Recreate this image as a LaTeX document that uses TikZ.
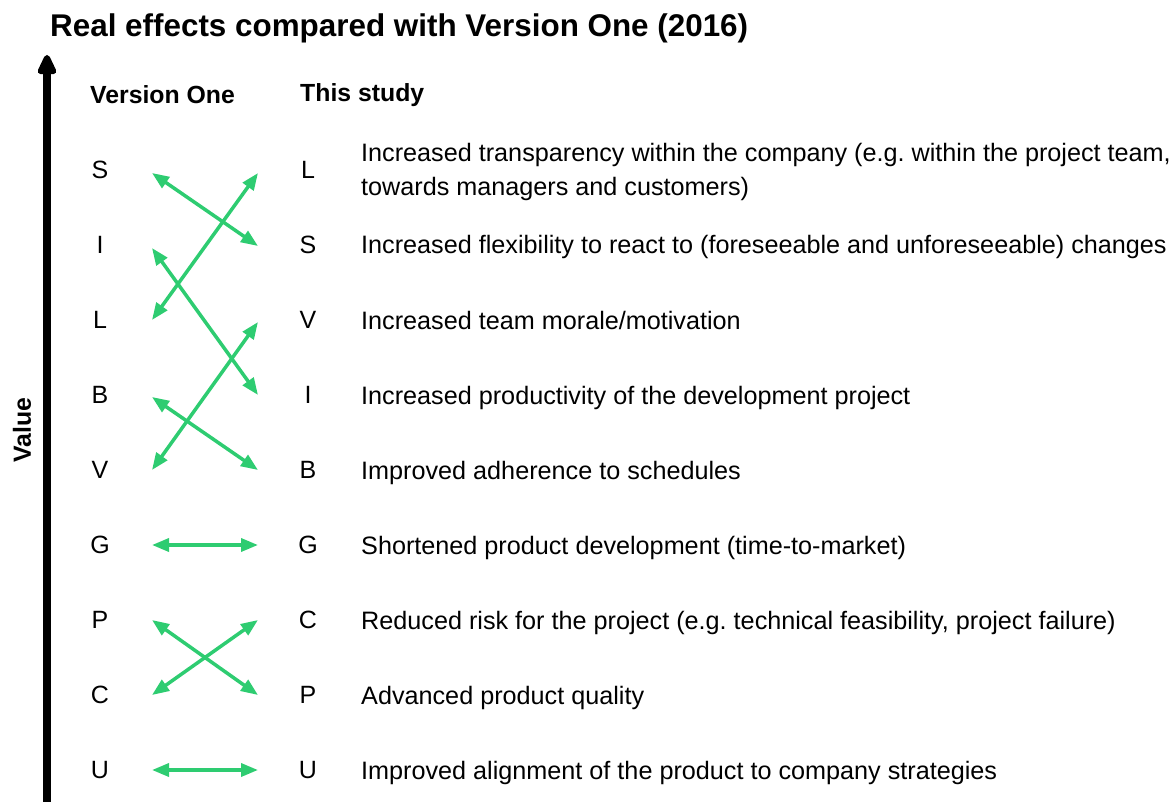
\documentclass[tikz,border=0pt]{standalone}
\usepackage{fontspec}
\setmainfont{Liberation Sans}
\usetikzlibrary{arrows.meta}
\definecolor{grn}{HTML}{2ECC71}
\frenchspacing
\begin{document}
\begin{tikzpicture}[x=1pt,y=-1pt,
  lbl/.style={font=\fontsize{25}{29}\selectfont, inner sep=0pt},
  desc/.style={font=\fontsize{25.2}{34}\selectfont, inner sep=0pt, anchor=base west, yshift=-9pt},
  hdr/.style={font=\fontsize{24.8}{28}\selectfont\bfseries, inner sep=0pt, anchor=west},
  link/.style={draw=grn, line width=3.5pt, {Triangle[length=17pt,width=13pt]}-{Triangle[length=17pt,width=13pt]}}]
\useasboundingbox (0,0) rectangle (1172,802);
\node[font=\fontsize{31.4}{35}\selectfont\bfseries, inner sep=0pt, anchor=west] (title) at (50,28) {Real effects compared with Version One (2016)};
\coordinate (axb) at (47,802);
\coordinate (axt) at (47,55);
\draw[line width=8.5pt, -{Triangle[length=24pt,width=20pt,round]}] (axb) -- (axt);
\node[font=\fontsize{24.8}{28}\selectfont\bfseries, inner sep=0pt, rotate=90] (value) at (22,430) {Value};
\node[hdr] (h1) at (90,95) {Version One};
\node[hdr] (h2) at (300,95) {This study};
% left letters
\foreach \n/\t/\y in {lS/S/170, lI/I/245, lL/L/320, lB/B/395, lV/V/470, lG/G/545, lP/P/620, lC/C/695, lU/U/770}
  \node[lbl] (\n) at (100,\y) {\t};
% right letters
\foreach \n/\t/\y in {rL/L/170, rS/S/245, rV/V/320, rI/I/395, rB/B/470, rG/G/545, rC/C/620, rP/P/695, rU/U/770}
  \node[lbl] (\n) at (308,\y) {\t};
% descriptions
\node[font=\fontsize{25.2}{34}\selectfont, inner sep=0pt, anchor=west, align=left, yshift=-2pt] (d1) at (361,170) {Increased transparency within the company (e.g. within the project team,\\towards managers and customers)};
\node[desc] (d2) at (361,245) {Increased flexibility to react to (foreseeable and unforeseeable) changes};
\node[desc] (d3) at (361,320) {Increased team morale/motivation};
\node[desc] (d4) at (361,395) {Increased productivity of the development project};
\node[desc] (d5) at (361,470) {Improved adherence to schedules};
\node[desc] (d6) at (361,545) {Shortened product development (time-to-market)};
\node[desc] (d7) at (361,620) {Reduced risk for the project (e.g. technical feasibility, project failure)};
\node[desc] (d8) at (361,695) {Advanced product quality};
\node[desc] (d9) at (361,770) {Improved alignment of the product to company strategies};
% connectors
\draw[link] ([xshift=52pt,yshift=-3pt]lS.center) -- ([xshift=-50pt,yshift=-1pt]rS.center);
\draw[link] ([xshift=52pt]lL.center) -- ([xshift=-50pt,yshift=-3pt]rL.center);
\draw[link] ([xshift=52pt,yshift=-3pt]lI.center) -- ([xshift=-50pt]rI.center);
\draw[link] ([xshift=52pt]lV.center) -- ([xshift=-50pt,yshift=-2pt]rV.center);
\draw[link] ([xshift=52pt,yshift=-2pt]lB.center) -- ([xshift=-50pt]rB.center);
\draw[link] ([xshift=52pt]lG.center) -- ([xshift=-50pt]rG.center);
\draw[link] ([xshift=52pt]lP.center) -- ([xshift=-50pt]rP.center);
\draw[link] ([xshift=52pt]lC.center) -- ([xshift=-50pt]rC.center);
\draw[link] ([xshift=52pt]lU.center) -- ([xshift=-50pt]rU.center);
\end{tikzpicture}
\end{document}
